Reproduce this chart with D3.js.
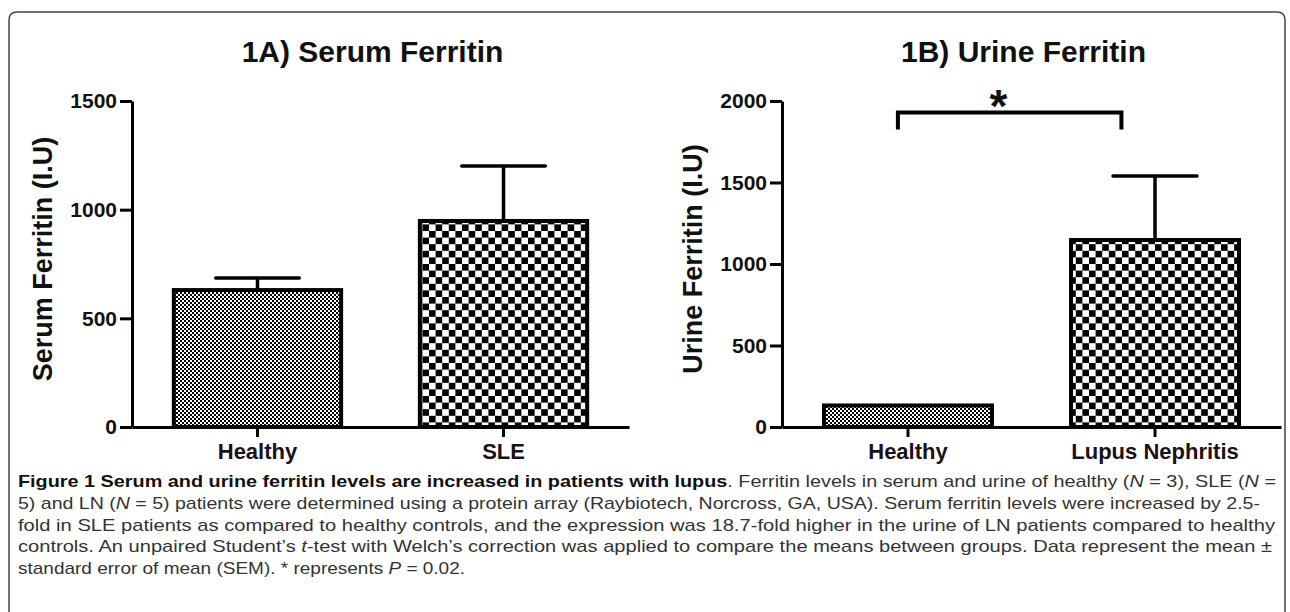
<!DOCTYPE html>
<html>
<head>
<meta charset="utf-8">
<script src="https://cdn.jsdelivr.net/npm/d3@7"></script>
<style>
  body { margin: 0; background: #fff; }
  svg { display: block; }
  text { font-family: "Liberation Sans", Arial, sans-serif; }
</style>
</head>
<body>
<script>
// values
const serumCats = ["Healthy", "SLE"];
const serumMean = [630, 948];
const serumSem = [56, 253];
const serumTicks = [0, 500, 1000, 1500];

const urineCats = ["Healthy", "Lupus Nephritis"];
const urineMean = [132, 1147];
const urineSem = [0, 393];
const urineTicks = [0, 500, 1000, 1500, 2000];

// significance bracket (value of the bar, value where the legs end)
const sigLevel = [1930, 1825];
const sigLabel = "*";

const width = 1290, height = 612;

const svg = d3.select('body').append('svg')
  .attr('width', width)
  .attr('height', height);

// checker patterns used as bar fills
const defs = svg.append('defs');
function checker(id, c) {
  const p = defs.append('pattern')
    .attr('id', id)
    .attr('patternUnits', 'userSpaceOnUse')
    .attr('width', 2 * c).attr('height', 2 * c);
  p.append('rect').attr('width', 2 * c).attr('height', 2 * c).attr('fill', '#fff');
  p.append('rect').attr('width', c).attr('height', c).attr('fill', '#000');
  p.append('rect').attr('x', c).attr('y', c).attr('width', c).attr('height', c).attr('fill', '#000');
}
checker('fine', 2);
checker('coarse', 6.6);
const fills = ['url(#fine)', 'url(#coarse)'];

// rounded frame round the figure
svg.append('path')
  .attr('d', `M9,${height} V20 Q9,12 17,12 H1277 Q1285,12 1285,20 V${height}`)
  .attr('fill', 'none')
  .attr('stroke', '#444')
  .attr('stroke-width', 1.5);

const yTop = 101, yBottom = 427;

function panel(opt) {
  const x = d3.scaleBand()
    .domain(opt.cats)
    .range([opt.left, opt.right])
    .paddingInner(0.32)
    .paddingOuter(0.17);
  const y = d3.scaleLinear()
    .domain([0, d3.max(opt.ticks)])
    .range([yBottom, yTop]);

  const g = svg.append('g');

  // bars
  g.selectAll('rect.bar').data(opt.means).join('rect')
    .attr('class', 'bar')
    .attr('x', (d, i) => x(opt.cats[i]))
    .attr('y', d => y(d))
    .attr('width', x.bandwidth())
    .attr('height', d => y(0) - y(d))
    .attr('fill', (d, i) => fills[i])
    .attr('stroke', '#000')
    .attr('stroke-width', 4);

  // error bars (upper half only)
  opt.means.forEach((m, i) => {
    if (!opt.sems[i]) return;
    const cx = x(opt.cats[i]) + x.bandwidth() / 2;
    const half = x.bandwidth() / 4;
    g.append('line')
      .attr('x1', cx).attr('x2', cx)
      .attr('y1', y(m)).attr('y2', y(m + opt.sems[i]))
      .attr('stroke', '#000').attr('stroke-width', 3.5);
    g.append('line')
      .attr('x1', cx - half).attr('x2', cx + half)
      .attr('y1', y(m + opt.sems[i])).attr('y2', y(m + opt.sems[i]))
      .attr('stroke', '#000').attr('stroke-width', 3.5)
      .attr('stroke-linecap', 'round');
  });

  // y axis
  const ya = g.append('g')
    .attr('transform', `translate(${opt.left},0)`)
    .call(d3.axisLeft(y).tickValues(opt.ticks).tickFormat(d3.format('d'))
      .tickSize(12).tickSizeOuter(0).tickPadding(3));
  ya.select('.domain').attr('stroke-width', 3);
  ya.selectAll('.tick line').attr('stroke-width', 3);
  ya.selectAll('.tick text')
    .attr('font-size', 21).attr('font-weight', 'bold').attr('fill', '#111')
    .attr('font-family', '"Liberation Sans", Arial, sans-serif');

  // x axis
  const xa = g.append('g')
    .attr('transform', `translate(0,${yBottom})`)
    .call(d3.axisBottom(x).tickSize(10).tickSizeOuter(0).tickPadding(6));
  xa.select('.domain').attr('stroke-width', 3);
  xa.selectAll('.tick line').attr('stroke-width', 3);
  xa.selectAll('.tick text')
    .attr('font-size', 22).attr('font-weight', 'bold').attr('fill', '#1a101a')
    .attr('font-family', '"Liberation Sans", Arial, sans-serif');

  // title
  g.append('text')
    .attr('x', (opt.left + opt.right) / 2 - 8)
    .attr('y', 62)
    .attr('text-anchor', 'middle')
    .attr('font-size', 30).attr('font-weight', 'bold').attr('fill', '#111')
    .text(opt.title);

  // y label
  g.append('text')
    .attr('transform', `translate(${opt.left - 80},${(yTop + yBottom) / 2 - 5}) rotate(-90)`)
    .attr('text-anchor', 'middle')
    .attr('font-size', 27).attr('font-weight', 'bold').attr('fill', '#111')
    .text(opt.ylabel);

  return {x, y, g};
}

panel({
  cats: serumCats, means: serumMean, sems: serumSem, ticks: serumTicks,
  left: 132, right: 629,
  title: "1A) Serum Ferritin", ylabel: "Serum Ferritin (I.U)"
});

const pb = panel({
  cats: urineCats, means: urineMean, sems: urineSem, ticks: urineTicks,
  left: 782, right: 1281,
  title: "1B) Urine Ferritin", ylabel: "Urine Ferritin (I.U)"
});

// significance bracket between the two urine groups
const bx0 = pb.x(urineCats[0]) + pb.x.bandwidth() * 0.44;
const bx1 = pb.x(urineCats[1]) + pb.x.bandwidth() * 0.3;
pb.g.append('path')
  .attr('d', `M${bx0},${pb.y(sigLevel[1])} V${pb.y(sigLevel[0])} H${bx1} V${pb.y(sigLevel[1])}`)
  .attr('fill', 'none')
  .attr('stroke', '#000')
  .attr('stroke-width', 4);
pb.g.append('text')
  .attr('x', bx0 + (bx1 - bx0) * 0.45)
  .attr('y', pb.y(sigLevel[0]) + 10)
  .attr('text-anchor', 'middle')
  .attr('font-size', 46).attr('font-weight', 'bold').attr('fill', '#111')
  .text(sigLabel);

// caption
const capX = 18;
const capFont = '"Liberation Sans Narrow", "DejaVu Sans Condensed", "Liberation Sans", sans-serif';
const capLines = [
  {len: 1258, parts: [
    ["Figure 1 Serum and urine ferritin levels are increased in patients with lupus", "b"],
    [". Ferritin levels in serum and urine of healthy (", ""], ["N", "i"], [" = 3), SLE (", ""], ["N", "i"], [" =", ""]]},
  {len: 1242, parts: [
    ["5) and LN (", ""], ["N", "i"],
    [" = 5) patients were determined using a protein array (Raybiotech, Norcross, GA, USA). Serum ferritin levels were increased by 2.5-", ""]]},
  {len: 1257, parts: [
    ["fold in SLE patients as compared to healthy controls, and the expression was 18.7-fold higher in the urine of LN patients compared to healthy", ""]]},
  {len: 1254, parts: [
    ["controls. An unpaired Student\u2019s ", ""], ["t", "i"],
    ["-test with Welch\u2019s correction was applied to compare the means between groups. Data represent the mean \u00b1", ""]]},
  {len: 447, parts: [
    ["standard error of mean (SEM). * represents ", ""], ["P", "i"], [" = 0.02.", ""]]}
];
capLines.forEach((line, i) => {
  const t = svg.append('text')
    .attr('x', capX)
    .attr('y', 487 + i * 21.8)
    .attr('font-size', 17)
    .attr('fill', '#333')
    .attr('font-family', capFont)
    .attr('textLength', line.len)
    .attr('lengthAdjust', 'spacingAndGlyphs');
  line.parts.forEach(([s, st]) => {
    const sp = t.append('tspan').text(s);
    if (st === 'b') sp.attr('font-weight', 'bold').attr('fill', '#111');
    if (st === 'i') sp.attr('font-style', 'italic');
  });
});
</script>
</body>
</html>
